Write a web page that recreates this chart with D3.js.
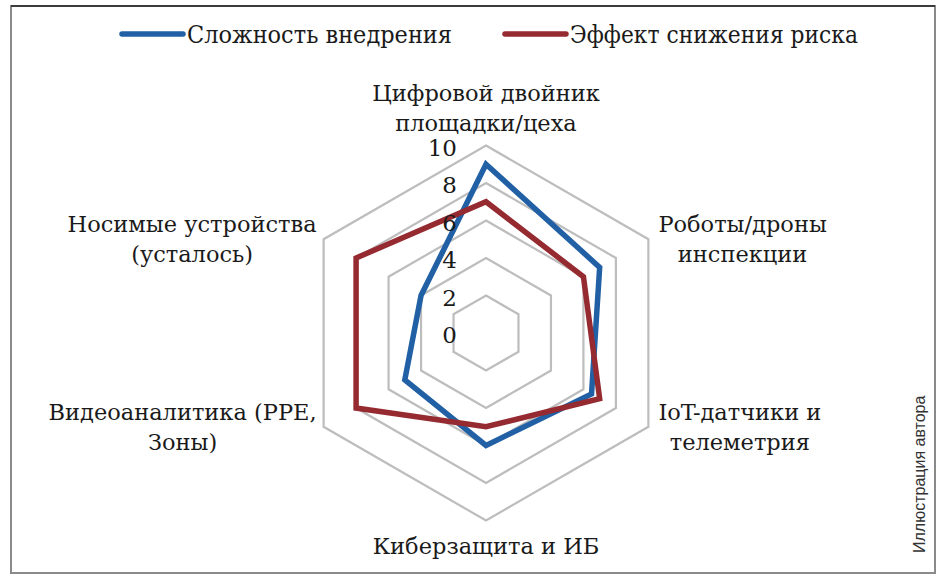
<!DOCTYPE html>
<html>
<head>
<meta charset="utf-8">
<script src="https://cdn.jsdelivr.net/npm/d3@7"></script>
<style>
  body { margin: 0; background: #fff; }
  svg { display: block; }
</style>
</head>
<body>
<svg id="chart" width="945" height="579"></svg>
<script>
// axes, clockwise from the top
var categories = [
  ["Цифровой двойник", "площадки/цеха"],
  ["Роботы/дроны", "инспекции"],
  ["IoT-датчики и", "телеметрия"],
  ["Киберзащита и ИБ"],
  ["Видеоаналитика (PPE,", "Зоны)"],
  ["Носимые устройства", "(усталось)"]
];
var complexity = [9, 7, 6.5, 6, 5, 4];   // Сложность внедрения
var effect = [7, 6, 7, 5, 8, 8];         // Эффект снижения риска
var ticks = [0, 2, 4, 6, 8, 10];
var seriesNames = ["Сложность внедрения", "Эффект снижения риска"];

var W = 945, H = 579;
var cx = 486, cy = 333, R = 187.5;
var serif = "'DejaVu Serif', serif";
var colors = ["#2160a5", "#952b30"];

var svg = d3.select("#chart");

// frame
svg.append("rect")
  .attr("x", 11).attr("y", 6)
  .attr("width", 924).attr("height", 567)
  .attr("fill", "none")
  .attr("stroke", "#8a8a8a")
  .attr("stroke-width", 2);
svg.append("line")
  .attr("x1", 11).attr("x2", 935).attr("y1", 6).attr("y2", 6)
  .attr("stroke", "#222").attr("stroke-width", 1.5);

var r = d3.scaleLinear().domain([0, 10]).range([0, R]);
var angle = d3.scaleLinear().domain([0, categories.length]).range([0, 2 * Math.PI]);

var g = svg.append("g").attr("transform", "translate(" + cx + "," + cy + ")");

var radial = d3.lineRadial()
  .angle(function(d, i) { return angle(i); })
  .radius(function(d) { return r(d); })
  .curve(d3.curveLinearClosed);

// hexagonal gridlines (no ring at 0)
ticks.filter(function(t) { return t > 0; }).forEach(function(t) {
  g.append("path")
    .attr("d", radial(categories.map(function() { return t; })))
    .attr("fill", "none")
    .attr("stroke", "#bdbdbd")
    .attr("stroke-width", 2.2);
});

// series
[complexity, effect].forEach(function(vals, k) {
  g.append("path")
    .attr("d", radial(vals))
    .attr("fill", "none")
    .attr("stroke", colors[k])
    .attr("stroke-width", 5.5)
    .attr("stroke-linejoin", "miter");
});

// tick labels along the top axis
g.selectAll(".tick")
  .data(ticks)
  .enter().append("text")
  .attr("class", "tick")
  .attr("x", -29)
  .attr("y", function(d) { return -r(d) + 10; })
  .attr("text-anchor", "end")
  .attr("font-family", serif)
  .attr("font-size", 23)
  .attr("fill", "#1a1a1a")
  .text(function(d) { return d; });

// category labels placed next to the outer vertex
var lineH = 30;
categories.forEach(function(lines, i) {
  var a = angle(i);
  var vx = cx + Math.sin(a) * r(10);
  var vy = cy - Math.cos(a) * r(10);
  var t = svg.append("text")
    .attr("font-family", serif)
    .attr("font-size", 22.5)
    .attr("fill", "#1a1a1a")
    .attr("text-anchor", "middle");
  var spans = lines.map(function(s) { return t.append("tspan").text(s); });
  var maxW = d3.max(spans, function(s) { return s.node().getComputedTextLength(); });
  var x, y0;
  var s = Math.sin(a);
  if (Math.abs(s) < 0.01) {
    x = vx;
    y0 = Math.cos(a) > 0 ? vy - 15 - (lines.length - 1) * lineH : vy + 33;
  } else if (s > 0) {
    x = vx + 10 + maxW / 2;
    y0 = vy - 7;
  } else {
    x = vx - 7 - maxW / 2;
    y0 = vy - 7;
  }
  spans.forEach(function(sp, j) {
    sp.attr("x", x).attr("y", y0 + j * lineH);
  });
});

// legend
var legendX = [122, 505];
var legendLen = [265, 288];
seriesNames.forEach(function(name, k) {
  var lg = svg.append("g").attr("transform", "translate(" + legendX[k] + ",34)");
  lg.append("line")
    .attr("x1", 0).attr("x2", 61)
    .attr("stroke", colors[k])
    .attr("stroke-width", 5.5)
    .attr("stroke-linecap", "round");
  lg.append("text")
    .attr("x", 65).attr("y", 9)
    .attr("font-family", serif)
    .attr("font-size", 25)
    .attr("fill", "#1a1a1a")
    .attr("textLength", legendLen[k])
    .attr("lengthAdjust", "spacingAndGlyphs")
    .text(name);
});

// credit
svg.append("text")
  .attr("transform", "translate(925,553) rotate(-90)")
  .attr("font-family", "'Liberation Sans', Arial, sans-serif")
  .attr("font-size", 16)
  .attr("fill", "#333")
  .text("Иллюстрация автора");
</script>
</body>
</html>
